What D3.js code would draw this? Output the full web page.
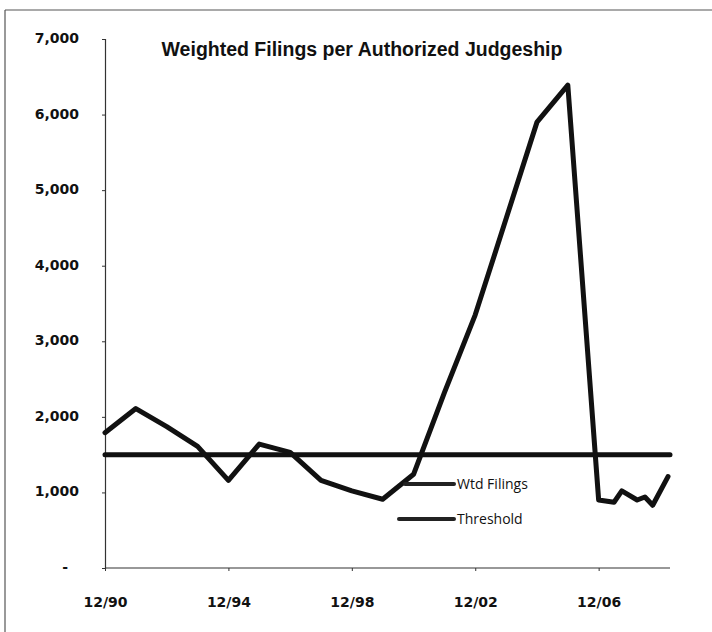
<!DOCTYPE html>
<html>
<head>
<meta charset="utf-8">
<script src="https://cdn.jsdelivr.net/npm/d3@7/dist/d3.min.js"></script>
<style>
  html, body { margin: 0; padding: 0; background: #fff; }
  svg { display: block; }
</style>
</head>
<body>
<svg id="chart" width="712" height="632"></svg>
<script>
// ---- data ----
const dates = ["1990-12","1991-12","1992-12","1993-12","1994-12","1995-12","1996-12",
  "1997-12","1998-12","1999-12","2000-12","2001-12","2002-12","2003-12","2004-12",
  "2005-12","2006-12","2007-06","2007-09","2008-03","2008-06","2008-09","2009-03"];
const wtdFilings = [1790,2110,1870,1610,1160,1640,1530,1160,1020,910,1240,2320,3350,
  4620,5900,6390,900,870,1020,900,940,830,1210];
const thresholdValue = 1500;
const yTicks = [0,1000,2000,3000,4000,5000,6000,7000];
const xTickDates = ["1990-12","1994-12","1998-12","2002-12","2006-12"];
const xDomain = ["1990-12","2009-03"];
const title = "Weighted Filings per Authorized Judgeship";
const legendLabels = ["Wtd Filings","Threshold"];

// ---- drawing ----
const parse = d3.timeParse("%Y-%m");
const svg = d3.select("#chart");

// frame (top and left edges)
svg.append("line").attr("x1",5).attr("x2",712).attr("y1",10).attr("y2",10)
  .attr("stroke","#555").attr("stroke-width",1.2);
svg.append("line").attr("x1",5).attr("x2",5).attr("y1",10).attr("y2",632)
  .attr("stroke","#555").attr("stroke-width",1.2);

const x = d3.scaleTime().domain(xDomain.map(parse)).range([105, 668]);
const y = d3.scaleLinear().domain([0, 7000]).range([568, 39]);

// y axis
const yAxis = svg.append("g").attr("transform","translate(105,0)")
  .call(d3.axisLeft(y).tickValues(yTicks).tickSize(3).tickPadding(23)
    .tickFormat(d => d === 0 ? "-" : d3.format(",")(d)));
yAxis.select(".domain").attr("stroke","#333").attr("stroke-width",1.2);
yAxis.selectAll(".tick line").attr("stroke","#333");
yAxis.selectAll(".tick text")
  .attr("font-family","DejaVu Sans").attr("font-weight","bold").attr("font-size",14)
  .attr("fill","#111").attr("dy","0.25em");
yAxis.selectAll(".tick text").filter(d => d === 0).attr("dx", -11);

// x axis
const xAxis = svg.append("g").attr("transform","translate(0,568)")
  .call(d3.axisBottom(x).tickValues(xTickDates.map(parse)).tickSize(3).tickPadding(26)
    .tickFormat(d3.timeFormat("%m/%y")));
xAxis.select(".domain").attr("stroke","#333").attr("stroke-width",1.2)
  .attr("d", `M105,0H670`);
xAxis.selectAll(".tick line").attr("stroke","#333");
xAxis.selectAll(".tick text")
  .attr("font-family","DejaVu Sans").attr("font-weight","bold").attr("font-size",14)
  .attr("fill","#111");

// threshold line
svg.append("line")
  .attr("x1", x(parse(xDomain[0]))).attr("x2", x(parse(xDomain[1])) + 2)
  .attr("y1", y(thresholdValue)).attr("y2", y(thresholdValue))
  .attr("stroke","#111").attr("stroke-width",5).attr("stroke-linecap","round");

// data line
const pts = dates.map((d,i) => ({date: parse(d), v: wtdFilings[i]}));
svg.append("path").datum(pts)
  .attr("fill","none").attr("stroke","#111").attr("stroke-width",5)
  .attr("stroke-linejoin","round").attr("stroke-linecap","round")
  .attr("d", d3.line().x(d => x(d.date)).y(d => y(d.v)));

// title
svg.append("text").attr("x",362).attr("y",56).attr("text-anchor","middle")
  .attr("font-family","Liberation Sans").attr("font-weight","bold").attr("font-size",19.5)
  .attr("fill","#111").text(title);

// legend
const legend = svg.append("g");
const legendY = [484, 519];
legendLabels.forEach((lab,i) => {
  legend.append("line").attr("x1", i === 0 ? 405 : 399).attr("x2",454)
    .attr("y1",legendY[i]).attr("y2",legendY[i])
    .attr("stroke","#222").attr("stroke-width",4).attr("stroke-linecap","round");
  legend.append("text").attr("x",457).attr("y",legendY[i]+5)
    .attr("font-family","Open Sans").attr("font-size",14).attr("fill","#111")
    .text(lab);
});
</script>
</body>
</html>
